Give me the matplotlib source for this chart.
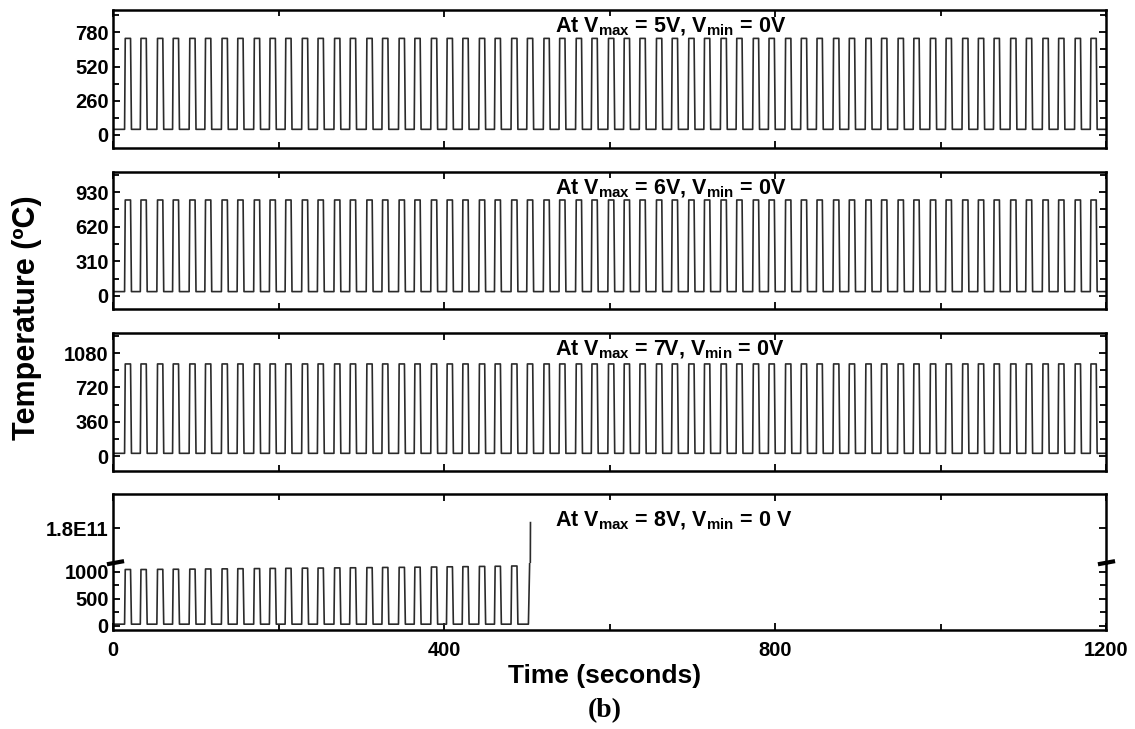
import numpy as np
import matplotlib
matplotlib.use("Agg")
import matplotlib.pyplot as plt
from matplotlib.ticker import MultipleLocator
from matplotlib.lines import Line2D

plt.rcParams['font.family'] = ['Liberation Sans', 'DejaVu Sans']
plt.rcParams['font.weight'] = 'bold'
plt.rcParams['mathtext.fontset'] = 'custom'
plt.rcParams['mathtext.rm'] = 'Liberation Sans:bold'
plt.rcParams['mathtext.default'] = 'rm'

# pulse onsets (s)
onsets = [14, 33, 53, 72, 92, 111, 131, 150, 170, 189, 208, 228, 247, 267, 286,
          306, 325, 345, 364, 384, 403, 422, 442, 461, 481, 500, 520, 539, 559, 578,
          598, 617, 636, 656, 675, 695, 714, 734, 753, 773, 792, 812, 831, 850, 870,
          889, 909, 928, 948, 967, 987, 1006, 1026, 1045, 1064, 1084, 1103, 1123,
          1142, 1162, 1181]

# peak / base temperatures per voltage
peak_5v, base_5v = 734, 42
peak_6v, base_6v = 860, 38
peak_7v, base_7v = 966, 30
base_8v = 28
peaks_8v = [1040, 1040, 1043, 1045, 1047, 1050, 1052, 1055, 1057, 1060, 1062, 1065,
            1067, 1070, 1072, 1075, 1078, 1080, 1083, 1086, 1090, 1093, 1097, 1100, 1105]
runaway_t = [502, 503.5, 504.5]
runaway_T = [28, 1150, 1.85e11]


def pulse_train(starts, peaks, base, t_end):
    t, y = [0], [base]
    for s, p in zip(starts, peaks):
        t += [s, s + 0.8, s + 7.2, s + 8.3]
        y += [base, p, p, base]
    if t_end is not None:
        t.append(t_end)
        y.append(base)
    return t, y


fig = plt.figure(figsize=(11.35, 7.29), dpi=100)
W, H = 1135.0, 729.0
L, R = 113 / W, 1106 / W


def add_ax(top_px, bot_px):
    return fig.add_axes([L, 1 - bot_px / H, R - L, (bot_px - top_px) / H])


def style(ax, xlabels=False):
    ax.set_xlim(0, 1200)
    ax.xaxis.set_major_locator(MultipleLocator(400))
    ax.xaxis.set_minor_locator(MultipleLocator(200))
    ax.tick_params(which='both', direction='in', top=True, right=True,
                   width=1.3, labelsize=14.5, pad=3)
    ax.tick_params(which='major', length=5)
    ax.tick_params(which='minor', length=4)
    if not xlabels:
        ax.tick_params(labelbottom=False)
    for sp in ax.spines.values():
        sp.set_linewidth(1.8)


line_kw = dict(color='#2b2b2b', lw=1.2)

panels = [
    (10, 148, peak_5v, base_5v, (-100, 950), 260, '5V', '0V'),
    (172, 309, peak_6v, base_6v, (-118, 1111), 310, '6V', '0V'),
    (333, 471, peak_7v, base_7v, (-155, 1290), 360, '7V', '0V'),
]
for top, bot, pk, bs, ylim, step, vmax, vmin in panels:
    ax = add_ax(top, bot)
    t, y = pulse_train(onsets, [pk] * len(onsets), bs, 1200)
    ax.plot(t, y, **line_kw)
    ax.set_ylim(*ylim)
    ax.set_yticks([0, step, 2 * step, 3 * step])
    ax.yaxis.set_minor_locator(MultipleLocator(step / 2))
    style(ax)
    fig.text(555 / W, 1 - (top + 17) / H,
             'At V$_{max}$ = ' + vmax + ', V$_{min}$ = ' + vmin,
             fontsize=15.5, va='center', ha='left')

# bottom panel with broken y axis
brk = 562.7
ax_lo = add_ax(brk, 630)
ax_hi = add_ax(494, brk)
t, y = pulse_train(onsets[:len(peaks_8v)], peaks_8v, base_8v, None)
t += runaway_t
y += runaway_T
for ax in (ax_lo, ax_hi):
    ax.plot(t, y, **line_kw)
ax_lo.set_ylim(-80, 1166)
ax_lo.set_yticks([0, 500, 1000])
ax_lo.yaxis.set_minor_locator(MultipleLocator(250))
ax_hi.set_ylim(1.5e11, 2.1e11)
ax_hi.set_yticks([1.8e11])
ax_hi.set_yticklabels(['1.8E11'])
style(ax_lo, xlabels=True)
style(ax_hi)
ax_lo.spines['top'].set_visible(False)
ax_hi.spines['bottom'].set_visible(False)
ax_lo.tick_params(which='both', top=False)
ax_hi.tick_params(which='both', bottom=False)
ax_lo.set_xticks([0, 400, 800, 1200])
ax_lo.tick_params(axis='x', pad=8)

# break marks on both spines
for x0, x1 in ((109, 122), (1100, 1113)):
    fig.add_artist(Line2D([x0 / W, x1 / W], [1 - (brk + 1.2) / H, 1 - (brk - 1.2) / H],
                          color='black', lw=3))

fig.text(555 / W, 1 - 521 / H, 'At V$_{max}$ = 8V, V$_{min}$ = 0 V',
         fontsize=15.5, va='center', ha='left')

fig.text(27 / W, 1 - 318 / H, 'Temperature (ºC)', rotation=90, fontsize=22,
         ha='center', va='center')
fig.text(605 / W, 1 - 676 / H, 'Time (seconds)', fontsize=19, ha='center', va='center')
fig.text(605 / W, 1 - 711 / H, '(b)', fontsize=20, ha='center', va='center',
         family='Liberation Serif', weight='bold')

fig.savefig('out.png', dpi=100)
